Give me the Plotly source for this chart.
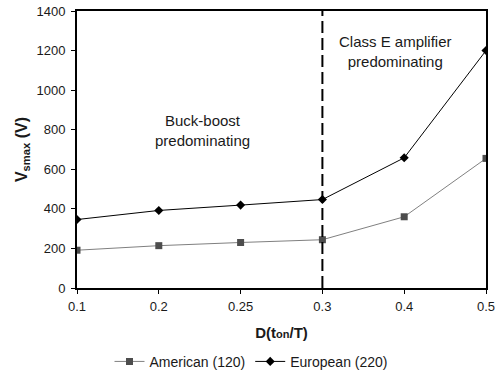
import plotly.graph_objects as go

categories = ["0.1", "0.2", "0.25", "0.3", "0.4", "0.5"]
american = [191, 214, 230, 244, 360, 655]
european = [346, 392, 419, 447, 658, 1200]
y_ticks = [0, 200, 400, 600, 800, 1000, 1200, 1400]
divider = "0.3"

FONT = "Liberation Sans, Arial, sans-serif"
TXT = "#1a1a1a"

fig = go.Figure()
fig.add_trace(go.Scatter(
    x=categories, y=american, name="American (120)", mode="lines+markers",
    line=dict(color="#808080", width=1),
    marker=dict(symbol="square", size=7, color="#4d4d4d"),
))
fig.add_trace(go.Scatter(
    x=categories, y=european, name="European (220)", mode="lines+markers",
    line=dict(color="#000000", width=1),
    marker=dict(symbol="diamond", size=7, color="#000000"),
))

fig.add_shape(type="line", xref="x", yref="paper",
              x0=categories.index(divider), x1=categories.index(divider),
              y0=0, y1=1, line=dict(color="black", width=2, dash="12px,5px"))

fig.add_annotation(xref="paper", yref="paper", x=0.306, y=0.57,
                   xanchor="center", yanchor="middle",
                   text="Buck-boost<br>predominating", showarrow=False,
                   font=dict(family=FONT, size=15, color=TXT))
fig.add_annotation(xref="paper", yref="paper", x=0.779, y=0.852,
                   xanchor="center", yanchor="middle",
                   text="Class E amplifier<br>predominating", showarrow=False,
                   font=dict(family=FONT, size=15, color=TXT))

fig.update_layout(
    width=502, height=373,
    margin=dict(l=77, r=16, t=11, b=85),
    paper_bgcolor="white", plot_bgcolor="white",
    font=dict(family=FONT, size=13, color=TXT),
    showlegend=True,
    legend=dict(orientation="h", x=0.5, xanchor="center", xref="container",
                y=0.03, yanchor="middle", yref="container",
                font=dict(family=FONT, size=14, color=TXT),
                itemwidth=30, tracegroupgap=0),
)
fig.update_xaxes(
    type="category", range=[0, len(categories) - 1], automargin=False,
    showline=True, linecolor="black", linewidth=2, mirror=True,
    ticks="outside", ticklen=4, tickcolor="black", ticklabelstandoff=1,
    showgrid=False, zeroline=False,
    tickfont=dict(family=FONT, size=13, color=TXT),
    title=dict(text="<b>D(t<span style='font-size:11px'>on</span>/T)</b>",
               font=dict(family=FONT, size=15, color=TXT), standoff=15),
)
fig.update_yaxes(
    range=[0, 1400], tickvals=y_ticks, automargin=False,
    showline=True, linecolor="black", linewidth=2, mirror=True,
    ticks="outside", ticklen=4, tickcolor="black", ticklabelstandoff=3,
    showgrid=False, zeroline=False,
    tickfont=dict(family=FONT, size=13, color=TXT),
    title=dict(text="<b>V<sub>smax</sub> (V)</b>",
               font=dict(family=FONT, size=16, color=TXT), standoff=5),
)

fig.write_html("out.html", config={"displayModeBar": False},
               post_script="document.body.style.margin='0';")
